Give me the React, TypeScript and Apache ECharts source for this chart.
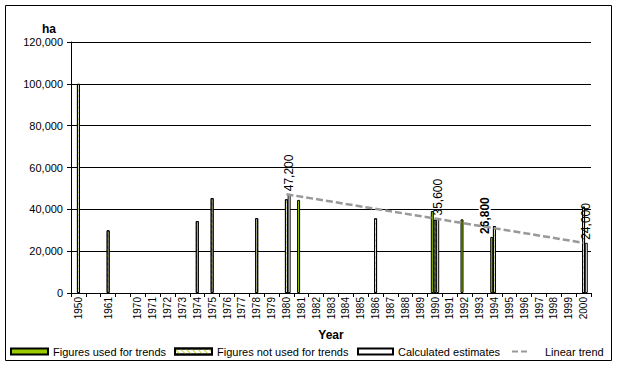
import React, { useEffect, useRef } from 'react';
import * as echarts from 'echarts';

const categories = [
  '1950', '', '1961', '', '1970', '1971', '1972', '1973', '1974', '1975', '1976', '1977',
  '1978', '1979', '1980', '1981', '1982', '1983', '1984', '1985', '1986', '1987', '1988',
  '1989', '1990', '1991', '1992', '1993', '1994', '1995', '1996', '1997', '1998', '1999', '2000',
];

const usedYears = ['1981', '1990', '1992', '1994'];
const usedValues = [44500, 39200, 35200, 26800];

const notUsedYears = ['1950', '1961', '1974', '1975', '1978', '1980', '1986', '1990', '1994', '2000'];
const notUsedValues = [100000, 30000, 34400, 45400, 35800, 44800, 35700, 35000, 32000, 41300];

const estimateYears = ['1980', '1990', '2000'];
const estimateValues = [47200, 35600, 24000];

const trendYears = ['1980', '2000'];
const trendValues = [47200, 24000];

const boldLabelYears = ['1994'];

const yMin = 0;
const yMax = 120000;
const yStep = 20000;

const FONT = '"Liberation Sans", Arial, sans-serif';
const fmt = (v: number) => v.toLocaleString('en-US');

function toSeries(years: string[], values: number[]) {
  return categories.map((c) => {
    const i = c ? years.indexOf(c) : -1;
    return i >= 0 ? values[i] : null;
  });
}

export default function App() {
  const ref = useRef<HTMLDivElement>(null);

  useEffect(() => {
    if (!ref.current) return;
    const chart = echarts.init(ref.current, undefined, { renderer: 'svg' });

    const usedData = toSeries(usedYears, usedValues).map((v, i) =>
      v !== null && boldLabelYears.includes(categories[i])
        ? {
            value: v,
            label: {
              show: true,
              fontWeight: 'bold',
              offset: [0, -7],
              backgroundColor: '#fff',
            },
          }
        : v
    );

    const labelBase = {
      position: 'top',
      rotate: 90,
      align: 'left',
      verticalAlign: 'middle',
      distance: 3,
      fontSize: 12,
      fontFamily: FONT,
      color: '#000',
      formatter: (p: any) => fmt(p.value),
    };

    const legendText = { fontSize: 11, color: '#000', fontFamily: FONT };

    chart.setOption({
      animation: false,
      textStyle: { fontFamily: FONT },
      title: {
        text: 'ha',
        left: 42,
        top: 23,
        padding: 0,
        textStyle: {
          fontSize: 12,
          lineHeight: 12,
          fontWeight: 'bold',
          color: '#000',
          fontFamily: FONT,
        },
      },
      graphic: [
        {
          type: 'rect',
          shape: { x: 5.5, y: 5.5, width: 606, height: 355 },
          style: { fill: 'none', stroke: '#000', lineWidth: 1 },
          silent: true,
        },
      ],
      grid: { left: 71, right: 27, top: 42, bottom: 74 },
      legend: [
        {
          data: ['Figures used for trends'],
          left: 10,
          top: 346,
          padding: 0,
          itemWidth: 37,
          itemHeight: 6,
          icon: 'rect',
          textStyle: legendText,
        },
        {
          data: ['Figures not used for trends'],
          left: 174,
          top: 346,
          padding: 0,
          itemWidth: 37,
          itemHeight: 6,
          icon: 'rect',
          textStyle: legendText,
        },
        {
          data: ['Calculated estimates'],
          left: 357,
          top: 346,
          padding: 0,
          itemWidth: 35,
          itemHeight: 6,
          icon: 'rect',
          textStyle: legendText,
        },
        {
          data: ['Linear trend'],
          left: 512,
          top: 346,
          padding: 0,
          itemWidth: 15,
          itemHeight: 3,
          icon: 'path://M0,0h6v2h-6z M9,0h6v2h-6z',
          itemStyle: { color: '#999999', borderWidth: 0 },
          lineStyle: { width: 0, opacity: 0 },
          textStyle: { ...legendText, padding: [0, 0, 0, 13] },
        },
      ],
      xAxis: {
        type: 'category',
        data: categories,
        name: 'Year',
        nameLocation: 'middle',
        nameGap: 36,
        nameTextStyle: { fontSize: 12, fontWeight: 'bold', color: '#000', fontFamily: FONT },
        axisLine: { show: true, lineStyle: { color: '#000', width: 1 } },
        axisTick: { show: true, interval: 0, length: 4, lineStyle: { color: '#000' } },
        axisLabel: {
          interval: 0,
          rotate: 90,
          fontSize: 10,
          margin: 4,
          color: '#000',
          fontFamily: FONT,
        },
        splitLine: { show: false },
      },
      yAxis: {
        type: 'value',
        min: yMin,
        max: yMax,
        interval: yStep,
        axisLine: { show: true, lineStyle: { color: '#000', width: 1 } },
        axisTick: { show: true, length: 4, lineStyle: { color: '#000' } },
        axisLabel: {
          fontSize: 11,
          margin: 8,
          color: '#000',
          fontFamily: FONT,
          formatter: (v: number) => fmt(v),
        },
        splitLine: { show: true, lineStyle: { color: '#000', width: 1 } },
      },
      series: [
        {
          name: 'Figures used for trends',
          type: 'bar',
          barWidth: 3,
          barGap: '-10%',
          data: usedData,
          itemStyle: { color: '#99cc00', borderColor: '#000', borderWidth: 1 },
          label: { ...labelBase, show: false },
          z: 3,
        },
        {
          name: 'Figures not used for trends',
          type: 'bar',
          barWidth: 3,
          barGap: '-10%',
          data: toSeries(notUsedYears, notUsedValues),
          itemStyle: {
            color: '#ffffff',
            borderColor: '#000',
            borderWidth: 1,
            decal: {
              symbol: 'rect',
              symbolSize: 1,
              color: '#c4d83c',
              dashArrayX: [1, 0],
              dashArrayY: [1, 3],
              rotation: Math.PI / 4,
            },
          },
          z: 2,
        },
        {
          name: 'Calculated estimates',
          type: 'bar',
          barWidth: 3,
          barGap: '-10%',
          data: toSeries(estimateYears, estimateValues),
          itemStyle: { color: '#ffffff', borderColor: '#000', borderWidth: 1 },
          label: { ...labelBase, show: true },
          z: 2,
        },
        {
          name: 'Linear trend',
          type: 'line',
          data: toSeries(trendYears, trendValues),
          connectNulls: true,
          symbol: 'none',
          lineStyle: { color: '#999999', width: 2.5, type: [7, 3] },
          itemStyle: { color: '#999999' },
          z: 4,
        },
      ],
    });

    return () => chart.dispose();
  }, []);

  return (
    <div
      ref={ref}
      style={{ position: 'absolute', left: 0, top: 0, width: 618, height: 367 }}
    />
  );
}
